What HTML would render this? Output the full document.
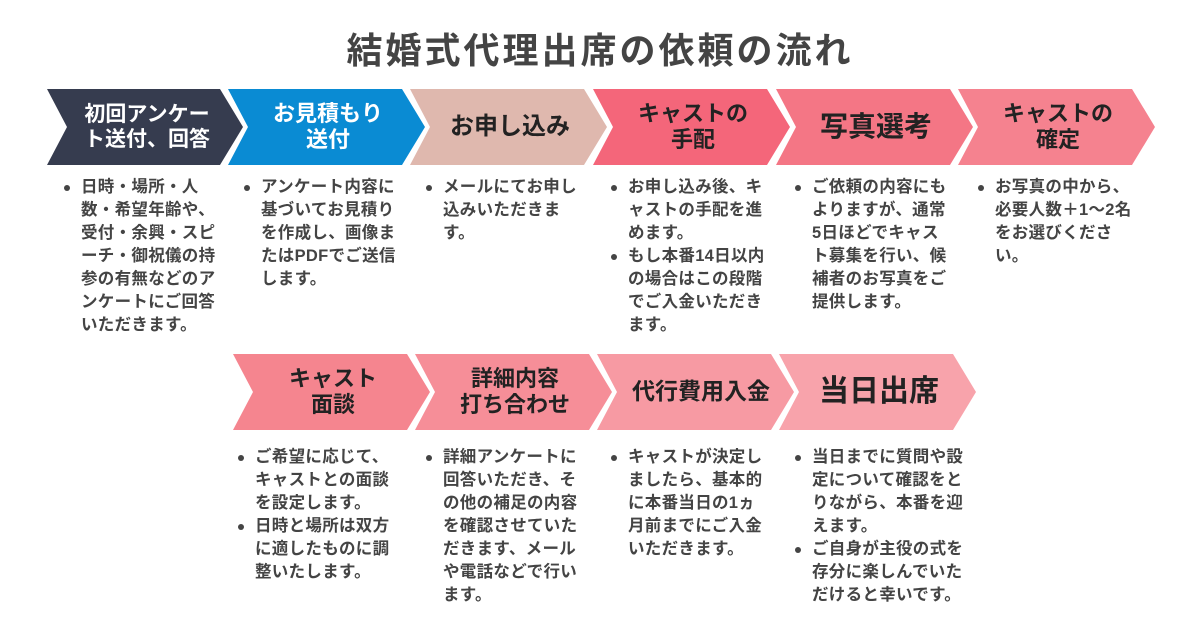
<!DOCTYPE html>
<html><head><meta charset="utf-8"><style>
body{margin:0;width:1200px;height:630px;background:#fff;position:relative;overflow:hidden;font-family:"Liberation Sans","Noto Sans CJK JP",sans-serif}
.t{position:absolute;left:0;width:1200px;top:22px;text-align:center;font-size:36px;font-weight:bold;color:#444;letter-spacing:3px}
.h{position:absolute;height:76px;display:flex;align-items:center;justify-content:center;text-align:center;font-weight:bold;line-height:1.2;font-size:22px;color:#222}
.b{position:absolute;font-size:16.5px;font-weight:bold;color:#444;line-height:23px;letter-spacing:0.3px;white-space:nowrap}
.b div{position:relative}
.b div:before{content:"";position:absolute;left:-17px;top:9px;width:6px;height:6px;border-radius:50%;background:#444}
</style></head><body>
<div class="t">結婚式代理出席の依頼の流れ</div>
<svg width="1200" height="630" style="position:absolute;left:0;top:0">
<polygon points="47,89 220,89 243,127 220,165 47,165 67,127" fill="#363c4f"/>
<polygon points="228,89 402,89 425,127 402,165 228,165 248,127" fill="#0a8bd3"/>
<polygon points="410,89 584,89 607,127 584,165 410,165 430,127" fill="#dfb8ae"/>
<polygon points="593,89 767,89 790,127 767,165 593,165 613,127" fill="#f4667a"/>
<polygon points="776,89 950,89 973,127 950,165 776,165 796,127" fill="#f47685"/>
<polygon points="958,89 1132,89 1155,127 1132,165 958,165 978,127" fill="#f5828f"/>
<polygon points="233,354 407,354 430,392 407,430 233,430 253,392" fill="#f5858f"/>
<polygon points="415,354 589,354 612,392 589,430 415,430 435,392" fill="#f68e98"/>
<polygon points="597,354 771,354 794,392 771,430 597,430 617,392" fill="#f79aa3"/>
<polygon points="779,354 953,354 976,392 953,430 779,430 799,392" fill="#f8a3ab"/>
</svg>
<div class="h" style="left:62px;width:170px;top:89px;color:#fff;font-size:21px">初回アンケー<br>ト送付、回答</div>
<div class="h" style="left:243px;width:170px;top:89px;color:#fff">お見積もり<br>送付</div>
<div class="h" style="left:425px;width:170px;top:89px;font-size:24px">お申し込み</div>
<div class="h" style="left:608px;width:170px;top:89px">キャストの<br>手配</div>
<div class="h" style="left:791px;width:170px;top:89px;font-size:28px">写真選考</div>
<div class="h" style="left:973px;width:170px;top:89px">キャストの<br>確定</div>
<div class="h" style="left:248px;width:170px;top:354px">キャスト<br>面談</div>
<div class="h" style="left:430px;width:170px;top:354px">詳細内容<br>打ち合わせ</div>
<div class="h" style="left:610px;width:182px;top:354px;font-size:23px">代行費用入金</div>
<div class="h" style="left:794px;width:170px;top:354px;font-size:30px">当日出席</div>

<div class="b" style="left:81px;top:176px"><div>日時・場所・人<br>数・希望年齢や、<br>受付・余興・スピ<br>ーチ・御祝儀の持<br>参の有無などのア<br>ンケートにご回答<br>いただきます。</div></div>
<div class="b" style="left:261px;top:176px"><div>アンケート内容に<br>基づいてお見積り<br>を作成し、画像ま<br>たはPDFでご送信<br>します。</div></div>
<div class="b" style="left:443px;top:176px"><div>メールにてお申し<br>込みいただきま<br>す。</div></div>
<div class="b" style="left:628px;top:176px"><div>お申し込み後、キ<br>ャストの手配を進<br>めます。</div><div>もし本番14日以内<br>の場合はこの段階<br>でご入金いただき<br>ます。</div></div>
<div class="b" style="left:812px;top:176px"><div>ご依頼の内容にも<br>よりますが、通常<br>5日ほどでキャス<br>ト募集を行い、候<br>補者のお写真をご<br>提供します。</div></div>
<div class="b" style="left:995px;top:176px"><div>お写真の中から、<br>必要人数＋1～2名<br>をお選びくださ<br>い。</div></div>
<div class="b" style="left:255px;top:446px"><div>ご希望に応じて、<br>キャストとの面談<br>を設定します。</div><div>日時と場所は双方<br>に適したものに調<br>整いたします。</div></div>
<div class="b" style="left:443px;top:446px"><div>詳細アンケートに<br>回答いただき、そ<br>の他の補足の内容<br>を確認させていた<br>だきます、メール<br>や電話などで行い<br>ます。</div></div>
<div class="b" style="left:628px;top:446px"><div>キャストが決定し<br>ましたら、基本的<br>に本番当日の1ヵ<br>月前までにご入金<br>いただきます。</div></div>
<div class="b" style="left:812px;top:446px"><div>当日までに質問や設<br>定について確認をと<br>りながら、本番を迎<br>えます。</div><div>ご自身が主役の式を<br>存分に楽しんでいた<br>だけると幸いです。</div></div>
</body></html>
